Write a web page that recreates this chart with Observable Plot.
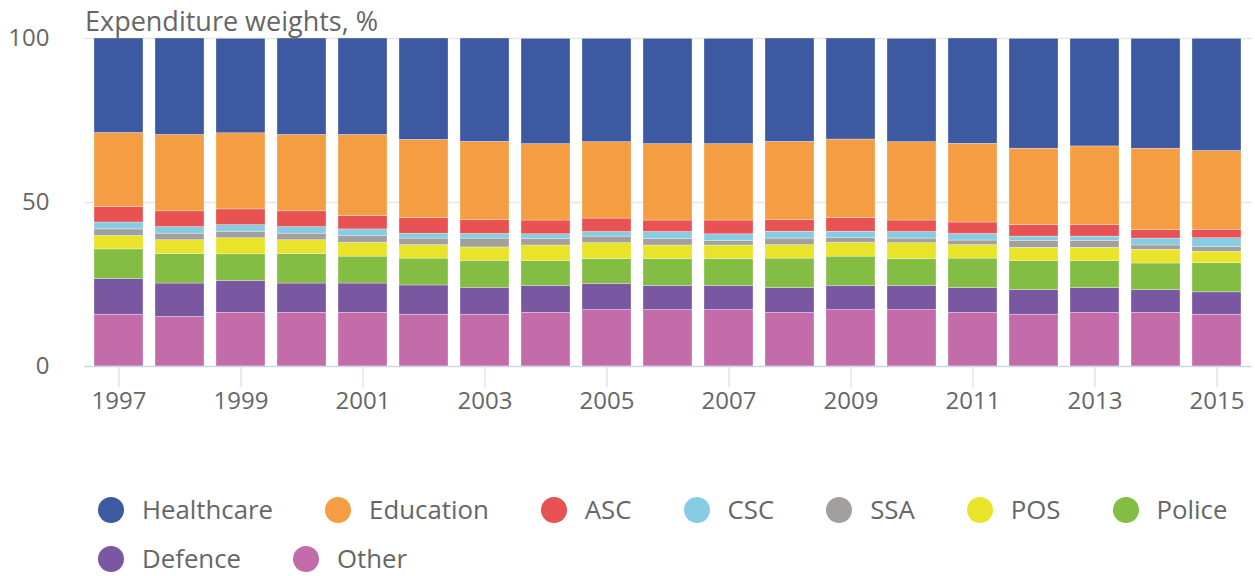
<!DOCTYPE html>
<html>
<head>
<meta charset="utf-8">
<script src="https://cdn.jsdelivr.net/npm/d3@7"></script>
<script src="https://cdn.jsdelivr.net/npm/@observablehq/plot@0.6"></script>
<style>
  html, body { margin: 0; background: #fff; font-family: "Open Sans", sans-serif; overflow: hidden; width: 1255px; height: 576px; }
  #wrap { position: relative; width: 1255px; }
  #title { position: absolute; left: 85px; top: 7px; font-size: 27px; color: #666; line-height: 27px; white-space: nowrap; }
  #legend { display: flex; flex-wrap: wrap; width: 1255px; padding-left: 98px; margin-top: 73px; box-sizing: border-box; column-gap: 52px; row-gap: 15px; }
  .item { display: flex; align-items: center; height: 34px; font-size: 25.8px; line-height: 1; color: #666; white-space: nowrap; }
  .dot { width: 26px; height: 26px; border-radius: 50%; margin-right: 18px; flex: none; }
</style>
</head>
<body>
<div id="wrap">
  <div id="title">Expenditure weights, %</div>
  <div id="chart"></div>
  <div id="legend"></div>
</div>
<script>
const years = ["1997","1998","1999","2000","2001","2002","2003","2004","2005","2006","2007","2008","2009","2010","2011","2012","2013","2014","2015"];
const tickYears = ["1997","1999","2001","2003","2005","2007","2009","2011","2013","2015"];
const yTicks = [0, 50, 100];

// stacked bottom to top
const seriesNames = ["Other","Defence","Police","POS","SSA","CSC","ASC","Education","Healthcare"];
const legendOrder = ["Healthcare","Education","ASC","CSC","SSA","POS","Police","Defence","Other"];
const seriesColors = {
  Healthcare: "#3d59a1", Education: "#f59d42", ASC: "#e85252", CSC: "#88cce4",
  SSA: "#a1a09f", POS: "#e9e42a", Police: "#83bd44", Defence: "#7958a1", Other: "#c36ca9"
};

const other      = [15.8, 15.1, 16.4, 16.4, 16.4, 15.8, 15.8, 16.4, 17.2, 17.2, 17.2, 16.4, 17.2, 17.2, 16.4, 15.8, 16.4, 16.4, 15.8];
const defence    = [10.9, 10.2, 9.7, 8.9, 8.9, 8.9, 8.2, 8.2, 8.0, 7.4, 7.4, 7.5, 7.4, 7.4, 7.5, 7.5, 7.5, 6.9, 6.8];
const police     = [9.0, 9.0, 8.1, 9.0, 8.2, 8.2, 8.2, 7.5, 7.6, 8.2, 8.2, 9.0, 8.9, 8.2, 9.0, 8.8, 8.2, 8.1, 8.9];
const pos        = [4.1, 4.2, 4.9, 4.2, 4.2, 4.1, 4.1, 4.8, 4.8, 4.1, 4.1, 4.1, 4.2, 4.8, 4.1, 4.1, 4.1, 4.2, 3.5];
const ssa        = [2.0, 2.0, 2.0, 2.0, 2.0, 2.0, 2.7, 2.0, 2.0, 2.0, 1.4, 2.0, 1.4, 1.4, 1.4, 2.1, 2.1, 1.3, 1.4];
const csc        = [2.1, 2.0, 2.0, 2.0, 2.1, 1.5, 1.4, 1.4, 1.4, 2.1, 2.0, 2.1, 2.0, 2.0, 2.0, 1.3, 1.3, 2.1, 2.7];
const asc        = [4.8, 4.8, 4.8, 4.8, 4.1, 4.7, 4.2, 4.2, 4.1, 3.5, 4.2, 3.5, 4.1, 3.5, 3.5, 3.5, 3.5, 2.6, 2.6];
const education  = [22.5, 23.3, 23.2, 23.3, 24.7, 23.9, 23.9, 23.3, 23.3, 23.3, 23.3, 23.9, 24.0, 23.9, 24.0, 23.3, 24.0, 24.8, 24.0];
const healthcare = [28.8, 29.4, 28.8, 29.4, 29.4, 30.9, 31.5, 32.1, 31.5, 32.1, 32.1, 31.5, 30.8, 31.5, 32.1, 33.5, 32.8, 33.5, 34.2];

const seriesValues = {
  Other: other, Defence: defence, Police: police, POS: pos, SSA: ssa,
  CSC: csc, ASC: asc, Education: education, Healthcare: healthcare
};

const data = [];
years.forEach((year, i) => {
  seriesNames.forEach(s => data.push({ year, series: s, value: seriesValues[s][i] }));
});

const chart = Plot.plot({
  width: 1255,
  height: 420,
  marginTop: 38,
  marginBottom: 54,
  marginLeft: 84,
  marginRight: 3.5,
  style: { fontFamily: "Open Sans, sans-serif", fontSize: "24px", background: "transparent", overflow: "visible" },
  x: { domain: years, paddingInner: 0.2, paddingOuter: 0.1, label: null },
  y: { domain: [0, 100], label: null },
  color: { domain: seriesNames, range: seriesNames.map(s => seriesColors[s]) },
  marks: [
    Plot.gridY(yTicks.filter(d => d > 0), { stroke: "#e6e6e6", strokeOpacity: 1, strokeWidth: 1.5 }),
    Plot.barY(data, { x: "year", y: "value", z: "series", fill: "series", stroke: "#fff", strokeWidth: 0.5, strokeOpacity: 0.6 }),
    Plot.ruleY([0], { stroke: "#ccd6eb", strokeWidth: 1.5 }),
    Plot.axisX({ ticks: tickYears, tickSize: 21, tickPadding: 4, stroke: "#ccd6eb", strokeOpacity: 1, fill: "#666", label: null }),
    Plot.axisY({ ticks: yTicks, tickSize: 0, tickPadding: 35, fill: "#666", label: null })
  ]
});
document.getElementById("chart").appendChild(chart);

const legend = document.getElementById("legend");
legendOrder.forEach(s => {
  const item = document.createElement("div");
  item.className = "item";
  const dot = document.createElement("span");
  dot.className = "dot";
  dot.style.background = seriesColors[s];
  const label = document.createElement("span");
  label.textContent = s;
  item.appendChild(dot);
  item.appendChild(label);
  legend.appendChild(item);
});
</script>
</body>
</html>
